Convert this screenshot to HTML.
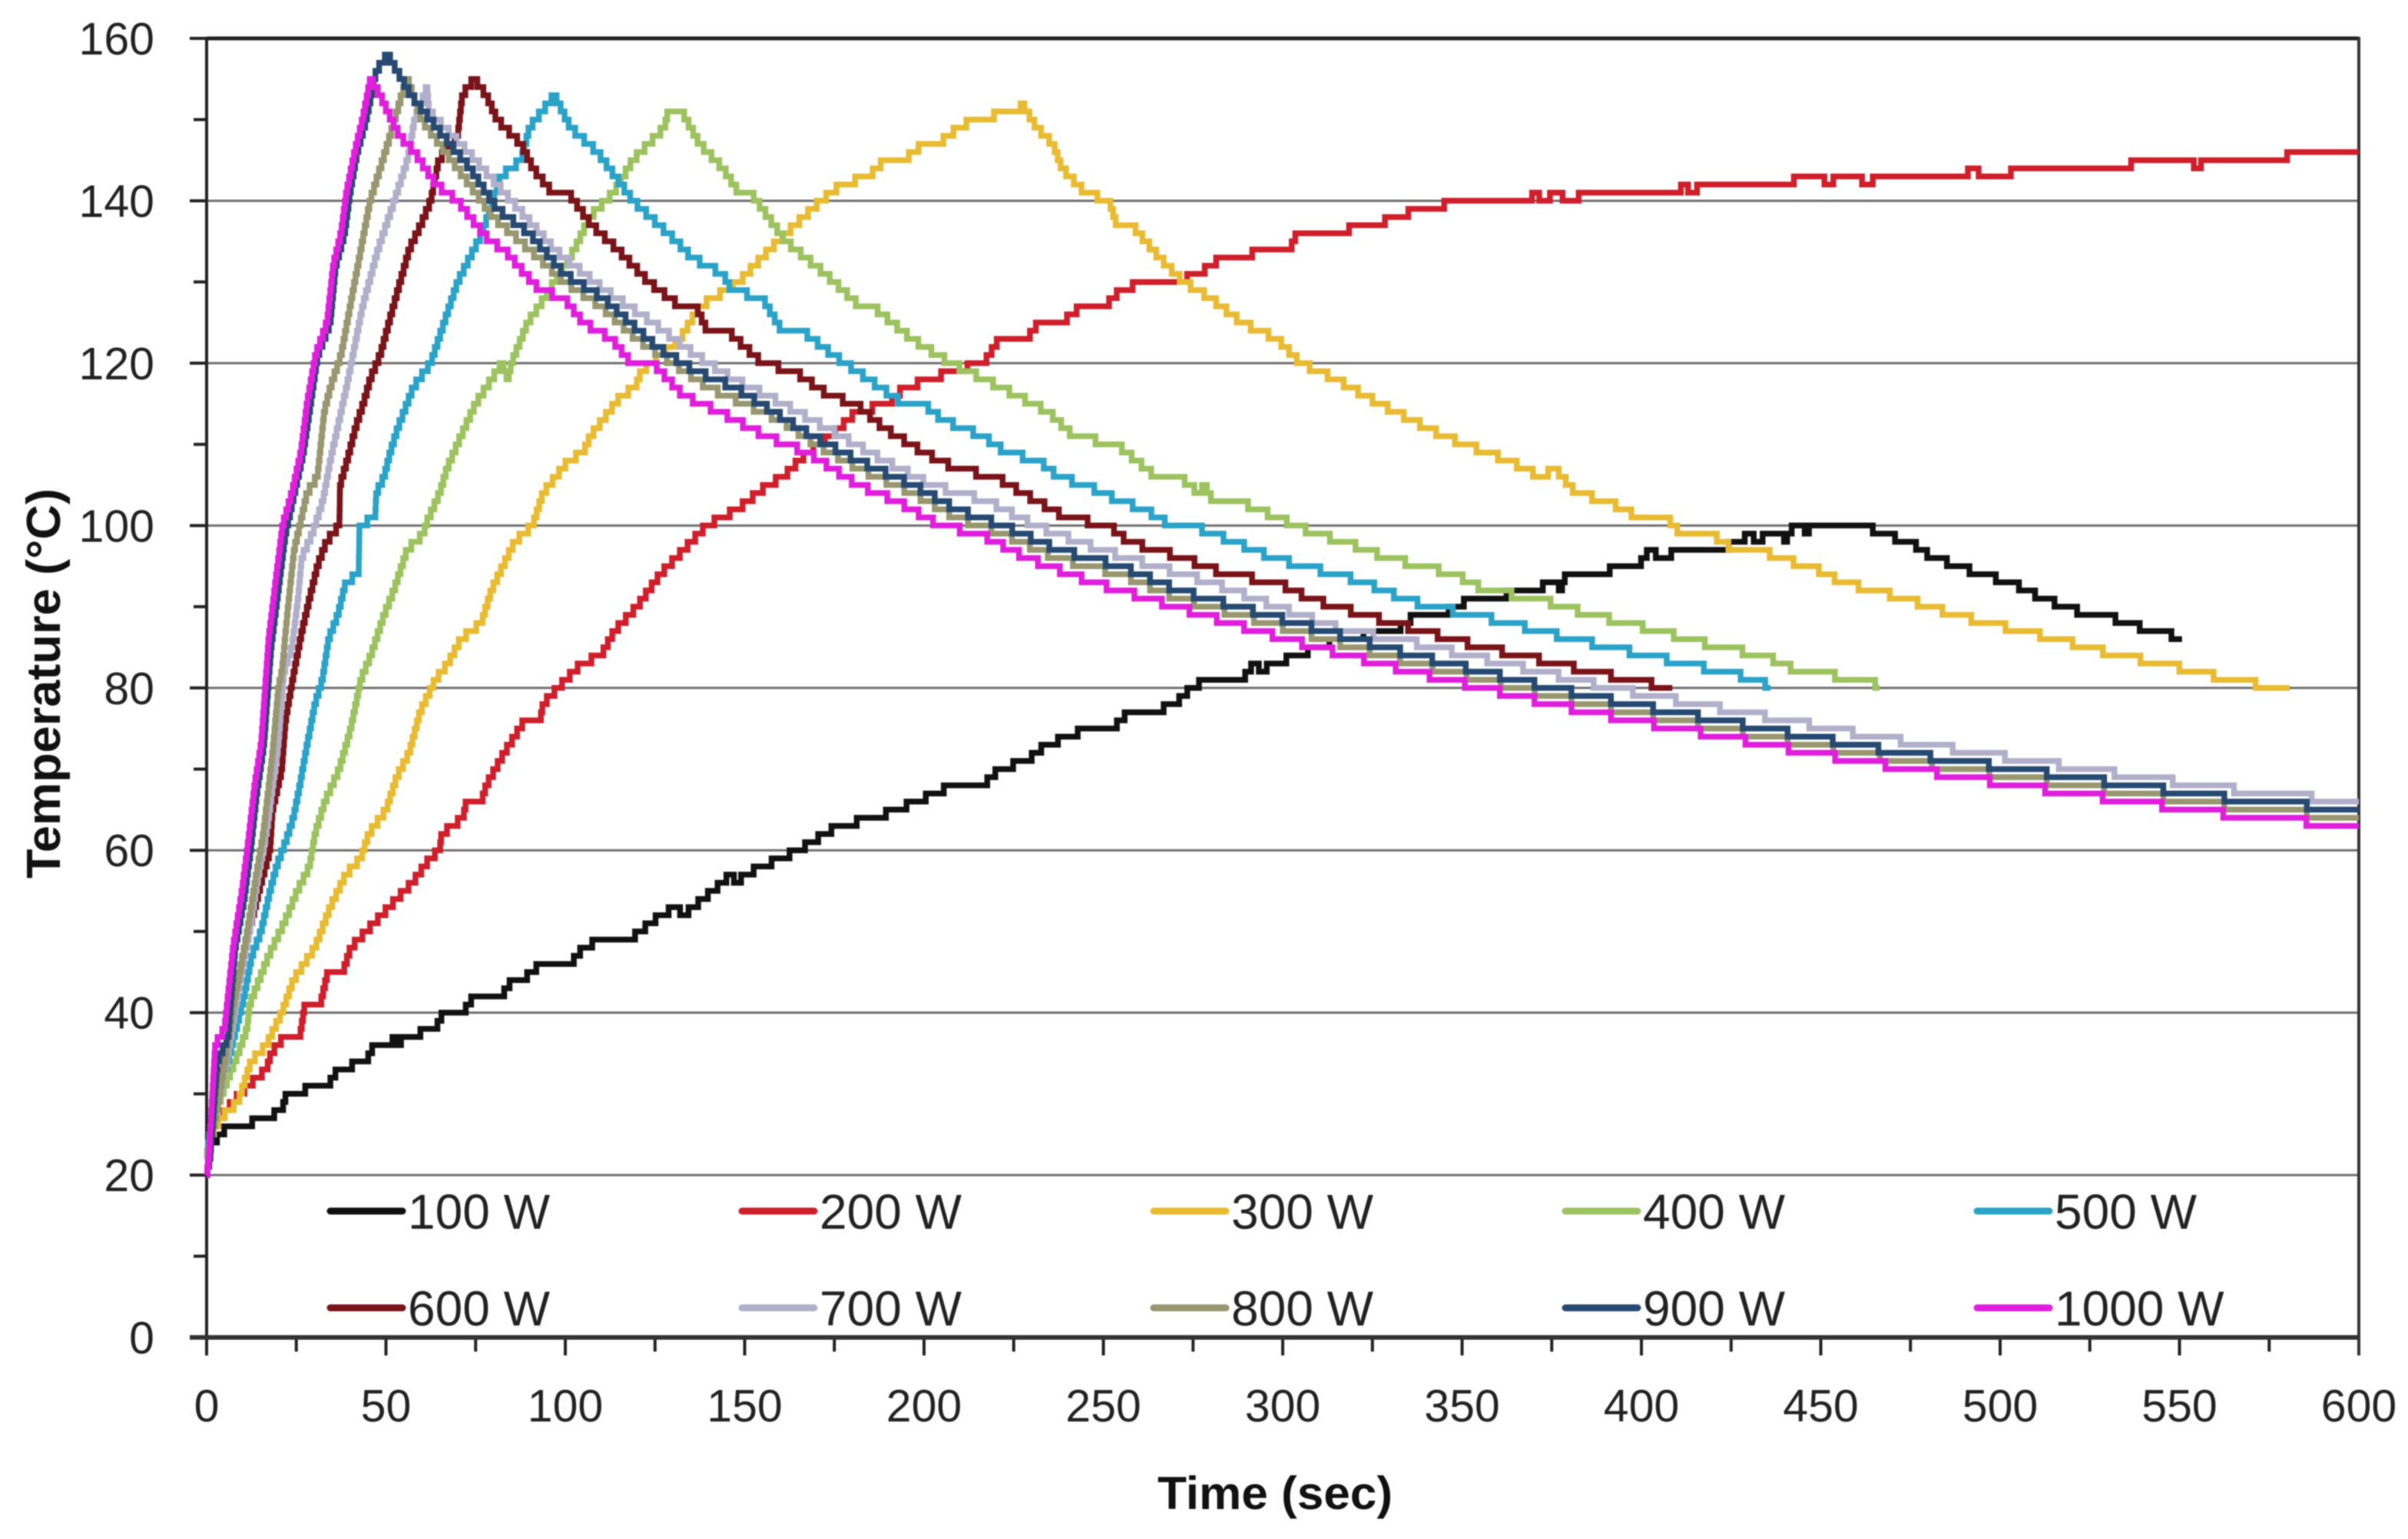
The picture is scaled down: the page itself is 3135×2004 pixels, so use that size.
<!DOCTYPE html>
<html lang="en">
<head>
<meta charset="utf-8">
<title>Temperature vs time for microwave power levels</title>
<style>
html,body{margin:0;padding:0;background:#fff;}
svg{display:block;filter:blur(0.7px);}
text{font-family:"Liberation Sans",sans-serif;fill:#222;}
</style>
</head>
<body>
<svg id="chart" xmlns="http://www.w3.org/2000/svg" width="3135" height="2004" viewBox="0 0 3135 2004">
<rect x="0" y="0" width="3135" height="2004" fill="#ffffff"/>
<g id="grid"></g>
<g id="axes"></g>
<g id="series"></g>
<g id="legend"></g>
<text x="1660" y="1965" font-size="60" font-weight="700" text-anchor="middle" textLength="306" lengthAdjust="spacingAndGlyphs" style="fill:#111">Time (sec)</text>
<text transform="translate(78,890) rotate(-90)" font-size="62" font-weight="700" text-anchor="middle" textLength="508" lengthAdjust="spacingAndGlyphs" style="fill:#111">Temperature (°C)</text>
</svg>
<script>
const xTickLabels = [0,50,100,150,200,250,300,350,400,450,500,550,600];
const xMinorTicks = [25,75,125,175,225,275,325,375,425,475,525,575];
const yTickLabels = [0,20,40,60,80,100,120,140,160];
const yMinorTicks = [10,30,50,70,90,110,130,150];

const seriesNames = ['100 W','200 W','300 W','400 W','500 W','600 W','700 W','800 W','900 W','1000 W'];
const seriesColors = ['#111111','#cf1f2b','#e9bb33','#9cc35f','#2ba3c9','#7a1419','#b2afcb','#98976f','#264a72','#e01fdc'];

const time100 = [2,3.8,6,12.4,13,16.7,21,22.3,27,28,33.8,36.6,40.2,40.9,44.5,46.7,51.6,52,54,54.4,59.5,59.7,63.8,66,71.5,74.5,82.2,85.2,88.7,90,93.8,101.5,105,110,118,126.6,131,133,143.8,146,148,150,165,176,186.5,198,208,216.5,221,228.7,234,240.7,245,252.7,257,263.6,270,274.5,278.8,288.7,292,294.7,296.4,300,302,306,308,318,327,331.5,337,342.5,350,351,360,364.8,372,373,376.4,377.5,379,390.6,391.7,399.4,400.4,402.6,405.4,408,408.6,421,427.6,430,432.6,435,439.5,440,442.5,445,446,447.4,464,465,470,471.4,475.8,477.3,482,494.6,503,512,524.6,531.7,532.6,538.6,539.2,547.2,548.3,550.7];
const temp100 = [24,25,26,26,27,27,28,30,30,31,31,33,33,34,34,36,36,37,36,37,37,38,38,40,40,42,42,44,44,45,46,46,48,49,49,52,53,52,56,57,56,57,60,63,64,66,68,68,70,71,73,74,75,75,77,77,78,80,81,81,83,82,83,83,84,84,85,86,87,87,89,89,90,91,91,92,92,93,93,92,94,94,95,95,96,97,96,96,97,97,98,99,98,99,99,98,100,100,99,100,100,99,99,98,98,97,96,94,93,91,89,89,88,88,87,87,86,86];

const time200 = [0,1,3.8,7.3,11.6,16.7,18,21.6,26,27.4,31.7,33.8,38,40.2,44.5,48.8,53,57.4,62.3,65,65.5,71.5,72.4,76.6,78,83,88.7,93,93.8,98,104.5,110,113.7,120,126.5,133,139.4,148,156.5,160.8,167.5,174,181.2,190,194.4,202,207.5,216.7,221,228.7,232,238.5,243.9,250.5,254.8,261.5,270,276.7,283,291,292,302,304,318,319,327,330,340,350,360,369,370,373,376,380,385,400,410,412,414,417,435,450,452,455,460,463,466,490,492,496,502,504,530,543,553,555,557,575,585,600];
const temp200 = [22,25,27,29,31,33,35,37,37,41,41,45,45,48,50,52,54,56,59,60,62,64,66,66,68,72,76,76,78,80,83,84,87,90,94,97,100,102,105,106,109,111,114,115,117,118,119,120,123,123,125,125,127,127,129,130,130,131,133,133,134,134,136,136,137,137,138,139,140,140,140,141,140,141,140,141,141,141,142,141,142,142,143,142,143,143,142,143,143,144,143,143,144,144,145,145,144,145,145,146,146];

const time300 = [0,1.5,3.8,8.8,12.4,16.7,21,24.2,30.2,34.5,38.8,43,45.2,50.1,53,56.5,59.5,63.8,67.3,70.9,76.6,79.4,83.7,85.9,90.9,93.8,100.9,105,107,115.6,119.5,121.2,132,137.5,145,148.4,157,161.6,171.3,177,184.6,189,194.4,199.8,204,209.6,214,218.4,220.6,226.5,227.3,231.5,236,238.5,245,251.6,253.8,258,265.7,272.4,280,288.6,298.5,305,315,327,345,363,372,376,381.8,390.6,399.4,407,411,420,422,426.5,434,437.5,447.3,456,465,473.5,487.4,496.5,506.5,515.7,524.7,532.6,545.6,554.3,564.7,577.7,580.7];
const temp300 = [22,25,27,29,34,36,40,44,48,53,57,59,62,65,69,72,77,81,83,86,88,92,96,98,100,104,108,109,111,116,117,119,123,127,129,130,134,136,140,142,143,145,145,147,147,149,150,150,151,151,152,149,147,144,141,140,137,137,133,130,128,125,123,120,118,115,111,108,106,107,104,103,101,101,99,99,98,97,97,96,95,93,92,91,89,88,87,86,85,84,83,82,81,80,80];

const time400 = [0,2,5.2,8.8,11.3,12,17.3,21.6,25.3,28.7,30.2,33,37,40.2,43,45.8,49.5,52.2,55.9,60.6,61,65,67,70.9,75,82.4,84,85,89.5,92.7,102.6,106.8,113.5,118.8,127.6,128.7,132.5,137.5,144,148.4,151.7,161.5,172.5,182.2,185.7,196.6,207.5,221.6,234.7,241.8,253.8,264.7,271.3,276.7,278.3,280.5,287.6,298.5,309,317.3,329.3,339,348,356.7,370.9,386,396,404.7,422,434.3,444,463.9,466.4];
const temp400 = [22,27,31,35,38,41,47,51,55,58,62,66,70,75,81,84,89,92,97,99,100,104,107,111,115,120,118,120,125,127,134,138,141,145,149,151,151,147,144,141,141,135,131,127,127,123,120,117,114,111,110,106,106,104,105,103,103,101,99,98,96,95,94,92,91,89,88,87,85,84,82,81,80];

const time500 = [0,2,6,10.5,12.6,15.2,17.7,19.5,22,24.2,26,27.6,30.2,32.3,34,36.6,38.8,42.4,42.6,47,47.3,49.5,51.2,53.3,55.9,57.6,62.5,70,76.8,82,87.7,90,97,101.5,109,118.9,131,135.3,144,146.3,155,160.4,166,174.7,184.6,194.4,199.8,205.3,216.5,223,232,237.5,245,254.8,261.5,269,274.5,286.5,297.5,306,315,322.8,333.7,341.4,353.4,363,372,380.8,391.7,401.6,412.5,422.3,433,436];
const temp500 = [22,29,34,42,47,50,55,58,61,64,68,72,78,81,86,89,93,94,100,101,104,106,109,112,115,117,120,130,136,143,145,149,153,149,146,140,135,133,131,129,128,124,124,121,118,115,115,113,111,109,108,106,105,103,102,100,100,98,96,95,94,93,91,90,89,88,87,86,85,84,83,82,81,80];

const time600 = [0,2.5,5,8.8,11,13,15.2,17.7,18.4,21,22,24.4,26.6,28.7,30.9,33.4,37,37.2,39.2,41.5,43.7,45.6,48.4,52.7,56.5,59.7,62.5,64.7,70,71.3,74.6,78,81,87.7,91,96.4,100.8,107.4,114.6,123.3,132,136.4,139.6,145.2,155,163.8,173.7,181,188.9,200,209,220,227.6,239.6,251.6,257,272.4,284.4,298.5,307.5,322.8,339,355.7,366.6,386,397,408.6];
const temp600 = [22,27,34,44,49,52,56,60,65,70,76,82,87,91,95,98,100,105,108,112,115,118,121,128,134,137,140,145,148,153,155,153,150,147,144,141,141,137,134,130,127,127,124,124,120,119,116,115,112,109,107,106,104,101,100,98,96,94,93,91,89,87,85,84,82,81,80];

const time700 = [0,3,6,9,12,14.5,17,20,21.6,23.8,25.5,26.5,29.5,32.4,34.5,37,39,43.5,47.8,51.6,56,58,61.5,62,73,85,97,111,124.4,136.4,147,156.5,173,189,202,218,231,249.5,264.6,280,298.5,318,332.5,352,372,391.6,415.6,440.7,465,479.5,508.6,539.6,573.7,600];
const temp700 = [22,28,35,43,50,57,63,73,82,85,91,96,99,103,108,113,117,127,134,139,145,150,154,151,146,140,134,129,125,121,118,116,112,108,105,103,100,97,95,93,90,87,86,84,82,80,78,76,74,73,71,69,67,66];

const time800 = [0,3,5.2,8,11,13.5,15.8,18.4,20,21,22.7,24.4,26,28,30.9,32.8,34.5,37.5,41.3,45.6,50.5,54.4,56,60,70,80,90,100,110,120,130,140,150,160,170,182,197,209,222,237,255,271,288,304,320,337,356,375,397,422,447,473,505,537,571,600];
const temp800 = [22,28,34,42,49,56,62,72,80,82,90,97,100,104,106,114,117,121,130,140,147,153,155,150,144,138,134,130,127,123,120,117,115,113,110,107,104,101,99,96,94,91,89,87,85,83,81,79,77,75,73,71,69,67,65,64];

const time900 = [0,1,3,6,8,10.5,12.3,14,16,18,20,22,24.5,27,29,31,34.5,36,38.5,40,42,44.5,47.3,50.5,57,66,73.5,81,90,99.7,110.6,125.5,136.4,147.3,158,169,181.6,197,209,222,237.5,255,271,287.6,304,320,337,355.7,375,397,422,447,472.4,505,537,571,600];
const temp900 = [20,22,34,37,48,54,60,67,73,85,92,99,104,109,115,121,125,132,136,141,146,150,156,158,153,148,144,139,136,131,128,122,119,117,114,111,108,105,102,100,97,95,92,90,88,86,84,82,80,78,76,74,72,70,68,66,65];

const time1000 = [0,0.6,2.4,5,7.4,9.9,11.6,13.4,15.2,17.3,19.5,21.2,23.8,26.3,28,30.4,33.6,35.3,37.5,39,41.3,43.5,45.7,48.4,50.5,53.8,58,64,70,73.5,79,83,88.8,93,99.7,105,113,118.4,124.4,133,143,156,167.5,181.6,192.5,204.5,215.4,228.7,247,262.5,277.8,293,309.5,327,336,355.7,375,397,423,447,475,504.5,536.6,570.7,600];
const temp1000 = [20,22,36,38,48,55,61,68,73,86,94,100,104,109,115,121,125,132,136,141,146,150,155,153,151,148,146,142,140,138,135,134,131,129,128,125,123,120,120,116,114,111,109,105,103,100,99,96,93,91,89,87,85,83,82,80,78,76,74,72,70,68,66,64,63];

const seriesTimes = [time100,time200,time300,time400,time500,time600,time700,time800,time900,time1000];
const seriesTemps = [temp100,temp200,temp300,temp400,temp500,temp600,temp700,temp800,temp900,temp1000];

const NS = 'http://www.w3.org/2000/svg';
function xScale(t){ return 269 + t * (3071 - 269) / 600; }
function yScale(v){ return 1741.5 - v * (1741.5 - 50) / 160; }

function line(parent, x1, y1, x2, y2, stroke, width){
  const el = document.createElementNS(NS, 'line');
  el.setAttribute('x1', x1);
  el.setAttribute('y1', y1);
  el.setAttribute('x2', x2);
  el.setAttribute('y2', y2);
  el.setAttribute('stroke', stroke);
  el.setAttribute('stroke-width', width);
  parent.appendChild(el);
  return el;
}
function label(parent, x, y, str, size, anchor){
  const el = document.createElementNS(NS, 'text');
  el.setAttribute('x', x);
  el.setAttribute('y', y);
  el.setAttribute('font-size', size);
  el.setAttribute('text-anchor', anchor);
  el.textContent = str;
  parent.appendChild(el);
  return el;
}
/* Sensor readings are whole degrees: the trace holds each degree, then steps. */
function stepPath(ts, vs){
  let cur = Math.round(vs[0]);
  let d = 'M' + xScale(ts[0]).toFixed(1) + ' ' + yScale(cur).toFixed(1);
  for (let i = 1; i < ts.length; i++){
    const target = Math.round(vs[i]);
    const dir = target > cur ? 1 : -1;
    while (cur !== target){
      let f = (cur + dir * 0.5 - vs[i-1]) / ((vs[i] - vs[i-1]) || 1);
      f = Math.max(0, Math.min(1, f));
      const t = ts[i-1] + f * (ts[i] - ts[i-1]);
      cur += dir;
      d += 'L' + xScale(t).toFixed(1) + ' ' + yScale(cur - dir).toFixed(1);
      d += 'L' + xScale(t).toFixed(1) + ' ' + yScale(cur).toFixed(1);
    }
    d += 'L' + xScale(ts[i]).toFixed(1) + ' ' + yScale(cur).toFixed(1);
  }
  return d;
}

const gridG = document.getElementById('grid');
const axesG = document.getElementById('axes');
const seriesG = document.getElementById('series');
const legendG = document.getElementById('legend');

yTickLabels.forEach(function(v){
  const y = yScale(v);
  if (v !== 0){
    const g = line(gridG, 269, y, 3071, y, v === 160 ? '#222222' : '#6f6f6f', v === 160 ? 5 : 3);
    
    
  }
  const t = line(axesG, 247, y, 269, y, '#222222', 4);
  
  
  const l = label(axesG, 201, y + 21, String(v), 59, 'end');
  
  
});
yMinorTicks.forEach(function(v){
  const t = line(axesG, 252, yScale(v), 269, yScale(v), '#222222', 4);
  
  
});
xTickLabels.forEach(function(v){
  const x = xScale(v);
  const t = line(axesG, x, 1741.5, x, 1765, '#222222', 4);
  
  
  const l = label(axesG, x, 1851, String(v), 59, 'middle');
  
  
});
xMinorTicks.forEach(function(v){
  const t = line(axesG, xScale(v), 1741.5, xScale(v), 1760, '#222222', 4);
  
  
});
const yAxisLine = line(axesG, 269, 48, 269, 1765, '#222222', 4);


const xAxisLine = line(axesG, 247, 1741.5, 3073, 1741.5, '#333333', 6);


const rightBorder = line(axesG, 3071, 48, 3071, 1765, '#333333', 4);



seriesNames.forEach(function(name, i){
  const slug = name.replace(' ', '-').toLowerCase();
  const p = document.createElementNS(NS, 'path');
  p.setAttribute('d', stepPath(seriesTimes[i], seriesTemps[i]));
  p.setAttribute('fill', 'none');
  p.setAttribute('stroke', seriesColors[i]);
  p.setAttribute('stroke-width', 7.5);
  p.setAttribute('stroke-linejoin', 'miter');
  
  
  seriesG.appendChild(p);

  const col = i % 5;
  const row = Math.floor(i / 5);
  const ly = row === 0 ? 1577 : 1703;
  const sw = line(legendG, 430 + col * 536, ly, 524 + col * 536, ly, seriesColors[i], 9);
  sw.setAttribute('stroke-linecap', 'round');
  
  
  const tx = label(legendG, 531 + col * 536, ly + 23, name, 64, 'start');
  
  
});
</script>
</body>
</html>
